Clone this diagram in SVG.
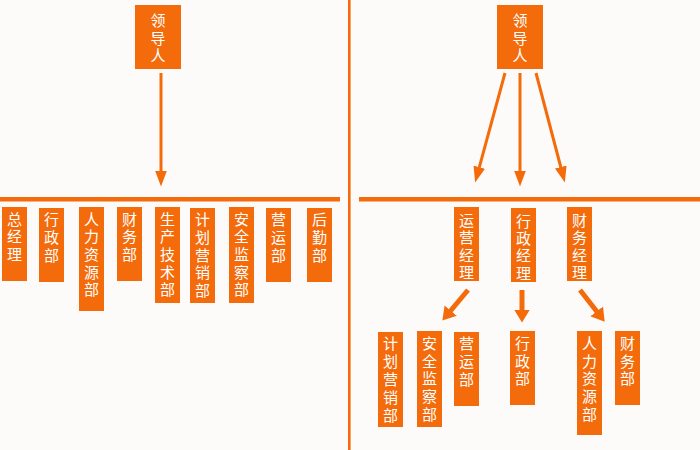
<svg xmlns="http://www.w3.org/2000/svg" width="700" height="450" viewBox="0 0 700 450">
<style>
.box{fill:#f36b0b}
.t{fill:#ffffff;font-family:"Noto Sans CJK SC","Noto Sans CJK JP",sans-serif;font-size:15px;writing-mode:vertical-rl;text-anchor:start;letter-spacing:2.7px}
.bar{fill:#f36b0b}
.a1{stroke:#f36b0b;stroke-width:3;fill:none;marker-end:url(#h1)}
.a2{stroke:#f36b0b;stroke-width:5;fill:none;marker-end:url(#h2)}
</style>
<defs>
<marker id="h1" markerUnits="userSpaceOnUse" markerWidth="17" markerHeight="12" refX="0.5" refY="6" orient="auto"><path d="M0,0 L16,6 L0,12 z" fill="#f36b0b"/></marker>
<marker id="h2" markerUnits="userSpaceOnUse" markerWidth="14" markerHeight="17" refX="0.5" refY="8" orient="auto"><path d="M0,0 L13,8 L0,16 z" fill="#f36b0b"/></marker>
</defs>
<rect x="0" y="0" width="700" height="450" fill="#fdfbf9"/>
<rect class="bar" x="348" y="0" width="2.6" height="450"/>
<rect class="bar" x="0" y="197" width="340" height="4.5"/>
<rect class="bar" x="359" y="197" width="341" height="4.5"/>

<g id="connectors">
<line class="a1" x1="161" y1="73" x2="161" y2="171"/>
<line class="a1" x1="505" y1="73" x2="479.2" y2="167.6"/>
<line class="a1" x1="520" y1="73" x2="520" y2="171"/>
<line class="a1" x1="536" y1="73" x2="560.9" y2="167.5"/>
<line class="a2" x1="468" y1="290" x2="450.4" y2="311"/>
<line class="a2" x1="522" y1="290" x2="522" y2="310"/>
<line class="a2" x1="580" y1="290" x2="597" y2="311.8"/>
</g>

<g id="leader-left"><rect class="box" x="135" y="5" width="46" height="64"/>
<text class="t" x="158" y="13" style="letter-spacing:2.5px">领导人</text></g>

<g id="zongjingli"><rect class="box" x="2" y="207" width="25" height="74"/>
<text class="t" x="14.5" y="211.5">总经理</text></g>
<g id="xingzhengbu-l"><rect class="box" x="39" y="208" width="25" height="74"/>
<text class="t" x="51.5" y="212">行政部</text></g>
<g id="renliziyuan-l"><rect class="box" x="79" y="207" width="25" height="104"/>
<text class="t" x="91.5" y="211.5">人力资源部</text></g>
<g id="caiwubu-l"><rect class="box" x="117" y="207" width="25" height="74"/>
<text class="t" x="129.5" y="211.5">财务部</text></g>
<g id="shengchan"><rect class="box" x="155" y="207" width="25" height="96"/>
<text class="t" x="167.5" y="211.5">生产技术部</text></g>
<g id="jihua-l"><rect class="box" x="190" y="208" width="25" height="95"/>
<text class="t" x="202.5" y="212">计划营销部</text></g>
<g id="anquan-l"><rect class="box" x="229" y="207" width="25" height="96"/>
<text class="t" x="241.5" y="211.5">安全监察部</text></g>
<g id="yingyunbu-l"><rect class="box" x="266" y="208" width="25" height="74"/>
<text class="t" x="278.5" y="212">营运部</text></g>
<g id="houqinbu"><rect class="box" x="307" y="208" width="25" height="74"/>
<text class="t" x="319.5" y="212">后勤部</text></g>

<g id="leader-right"><rect class="box" x="497" y="5" width="46" height="64"/>
<text class="t" x="520" y="13" style="letter-spacing:2.5px">领导人</text></g>

<g id="yingyunjingli"><rect class="box" x="454" y="207" width="25" height="74"/>
<text class="t" x="466.5" y="213" style="letter-spacing:2.3px">运营经理</text></g>
<g id="xingzhengjingli"><rect class="box" x="511" y="208" width="25" height="74"/>
<text class="t" x="523.5" y="213.5" style="letter-spacing:2.3px">行政经理</text></g>
<g id="caiwujingli"><rect class="box" x="567" y="207" width="25" height="74"/>
<text class="t" x="579.5" y="213" style="letter-spacing:2.3px">财务经理</text></g>

<g id="jihua-r"><rect class="box" x="378" y="332" width="25" height="95"/>
<text class="t" x="390.5" y="336" style="letter-spacing:2.9px">计划营销部</text></g>
<g id="anquan-r"><rect class="box" x="417" y="331" width="25" height="96"/>
<text class="t" x="429.5" y="335.5" style="letter-spacing:2.9px">安全监察部</text></g>
<g id="yingyunbu-r"><rect class="box" x="454" y="332" width="25" height="74"/>
<text class="t" x="466.5" y="336" style="letter-spacing:2.9px">营运部</text></g>
<g id="xingzhengbu-r"><rect class="box" x="510" y="331" width="25" height="74"/>
<text class="t" x="522.5" y="335.5" style="letter-spacing:2.9px">行政部</text></g>
<g id="renliziyuan-r"><rect class="box" x="577" y="331" width="25" height="104"/>
<text class="t" x="589.5" y="335.5" style="letter-spacing:2.9px">人力资源部</text></g>
<g id="caiwubu-r"><rect class="box" x="615" y="331" width="25" height="74"/>
<text class="t" x="627.5" y="335.5" style="letter-spacing:2.9px">财务部</text></g>
</svg>
